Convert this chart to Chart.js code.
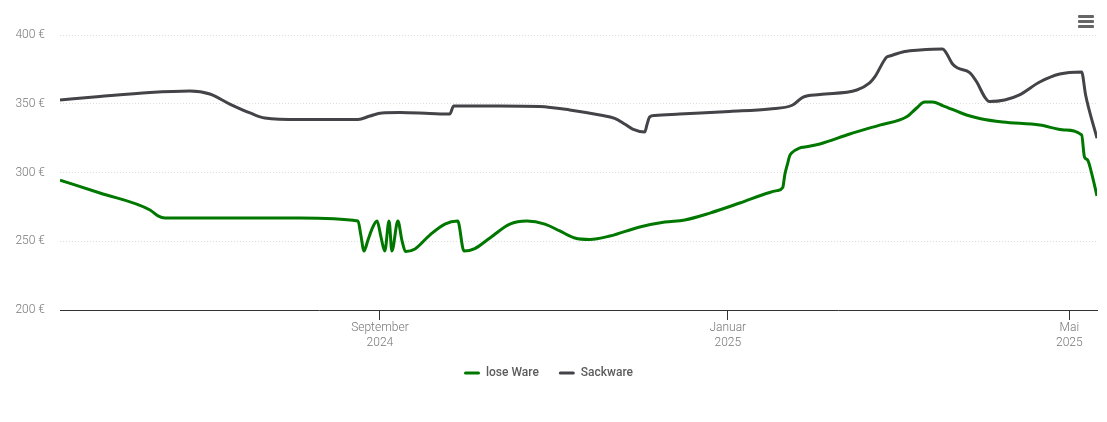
<!DOCTYPE html>
<html lang="de">

<head>
    <meta charset="UTF-8">
    <title>Preisverlauf</title>
    <style>
        html,
        body {
            margin: 0;
            padding: 0;
            background: #fff;
            overflow: hidden;
        }

        #wrap {
            position: relative;
            width: 1107px;
            height: 422px;
        }

        #canvas {
            display: block;
        }

        .menu {
            position: absolute;
            left: 1078px;
            width: 16px;
            height: 3px;
            border-radius: 1px;
            background: #666;
        }
    </style>
</head>

<body>
    <div id="wrap">
        <canvas id="canvas" width="1107" height="422"></canvas>
        <div class="menu" style="top: 15px"></div>
        <div class="menu" style="top: 20px"></div>
        <div class="menu" style="top: 25px"></div>
    </div>

    <script src="https://cdn.jsdelivr.net/npm/chart.js@4"></script>

    <script>
        // days counted from 12 May 2024
        const looseDays = [0, 14, 31.6, 34.4, 36.9, 84.2, 104.6, 105.6, 106.7, 108.1, 109.5, 111.3, 112.6, 114, 115.5, 116.5, 118.6, 120, 121.3, 124.6, 129.8, 135.1, 139.6, 141.8, 145.6, 150.9, 157.9, 163.9, 170.2, 175.4, 180.7, 186, 193, 203.5, 212.3, 219.3, 228.1, 238.6, 249.1, 251.7, 253.7, 254.4, 255.4, 256.1, 256.8, 259.6, 261.4, 266.7, 277.2, 287.7, 297.2, 300.7, 303.5, 306.3, 309.8, 318.2, 322.8, 330.9, 343.9, 352.6, 358.6, 359.6, 360.7, 362.1, 364];
        const looseValues = [294.5, 285.1, 272.7, 268.4, 266.9, 266.9, 264.7, 254.5, 242.9, 250.9, 258.9, 264.7, 253.8, 242.9, 264.7, 242.9, 264.7, 250.9, 242.5, 244.4, 254.5, 262.5, 264.7, 242.9, 244.7, 252.4, 262.5, 264.7, 262.5, 257.5, 252.4, 251.3, 253.8, 260.4, 264, 265.5, 270.5, 277.8, 285.5, 286.8, 289.1, 298.2, 306.5, 312, 314.2, 317.8, 318.5, 320.7, 328, 334.5, 340.5, 346.9, 351.3, 351.3, 348.7, 341.8, 339.3, 336.7, 334.5, 330.9, 327.3, 311.3, 309.1, 299.6, 282.9];

        const sackDays = [0, 14, 31.6, 45.6, 52.6, 59.6, 66.7, 71.9, 84.2, 104.6, 108.8, 113, 119.3, 129.8, 136.8, 138.2, 154.4, 168.4, 178.9, 189.5, 194.7, 198.2, 201, 205.3, 206, 207, 208.8, 217.5, 235, 249.1, 257.2, 260.7, 266.7, 279.7, 284.2, 286, 290.2, 291.2, 296.5, 301.8, 309.8, 310.9, 313.3, 315.1, 319.3, 321.8, 324.6, 326.3, 331.6, 336.8, 343.9, 350.9, 358.6, 360, 364];
        const sackValues = [352.7, 355.3, 358.2, 359.3, 357.1, 349.8, 343.3, 339.6, 338.5, 338.5, 341.1, 343.3, 343.6, 342.9, 342.5, 348.4, 348.4, 348, 345.5, 341.8, 339.4, 335.3, 331.6, 329.5, 334.5, 340.4, 341.5, 342.5, 344.4, 346.2, 349.1, 354.7, 356.7, 360, 365.1, 369.5, 384, 384.7, 388, 389.1, 389.8, 387.6, 378.9, 376, 372.7, 365.8, 354.9, 351.6, 352.7, 356.4, 365.8, 371.6, 373.1, 356.4, 325];

        const xTickDays = [112.3, 234.4, 354.3];
        const xTickLabels = [['September', '2024'], ['Januar', '2025'], ['Mai', '2025']];

        const toPoints = (days, values) => days.map((d, i) => ({ x: d, y: values[i] }));

        const config = {
            type: 'line',
            data: {
                datasets: [{
                    label: 'lose Ware',
                    data: toPoints(looseDays, looseValues),
                    borderColor: '#007800',
                    backgroundColor: '#007800',
                    borderWidth: 3,
                    pointRadius: 0,
                    cubicInterpolationMode: 'monotone'
                },
                {
                    label: 'Sackware',
                    data: toPoints(sackDays, sackValues),
                    borderColor: '#434348',
                    backgroundColor: '#434348',
                    borderWidth: 3,
                    pointRadius: 0,
                    cubicInterpolationMode: 'monotone'
                }]
            },
            options: {
                responsive: false,
                animation: false,
                layout: {
                    padding: { top: 35, right: 10, bottom: 33, left: 0 }
                },
                plugins: {
                    tooltip: { enabled: false },
                    legend: {
                        position: 'bottom',
                        labels: {
                            boxWidth: 16,
                            boxHeight: 3,
                            padding: 20,
                            color: '#5c5c5c',
                            useBorderRadius: true,
                            borderRadius: 1.5,
                            font: { family: 'Roboto', size: 12, weight: '500' },
                            generateLabels: (chart) => {
                                const items = Chart.defaults.plugins.legend.labels.generateLabels(chart);
                                items.forEach(item => { item.lineWidth = 0; });
                                return items;
                            }
                        }
                    }
                },
                scales: {
                    x: {
                        type: 'linear',
                        min: 0,
                        max: 364,
                        afterBuildTicks: (axis) => {
                            axis.ticks = xTickDays.map(d => ({ value: d }));
                        },
                        afterFit: (axis) => { axis.height = 37; },
                        grid: {
                            drawOnChartArea: false,
                            tickLength: 10,
                            color: '#333'
                        },
                        border: { color: '#333', width: 1 },
                        ticks: {
                            autoSkip: false,
                            maxRotation: 0,
                            padding: 0,
                            color: '#777',
                            font: { family: 'Roboto', size: 12, weight: '300', lineHeight: 1.3 },
                            callback: (value) => xTickLabels[xTickDays.indexOf(value)]
                        }
                    },
                    y: {
                        min: 200,
                        max: 400,
                        afterFit: (axis) => { axis.width = 60; },
                        grid: {
                            color: '#ddd',
                            tickLength: 0,
                            lineWidth: 1
                        },
                        border: { display: false, dash: [1, 2] },
                        ticks: {
                            stepSize: 50,
                            padding: 15,
                            color: '#777',
                            font: { family: 'Roboto', size: 12, weight: '300' },
                            callback: (value) => value + ' €'
                        }
                    }
                }
            }
        };

        new Chart(document.querySelector('#canvas'), config);
    </script>
</body>

</html>
